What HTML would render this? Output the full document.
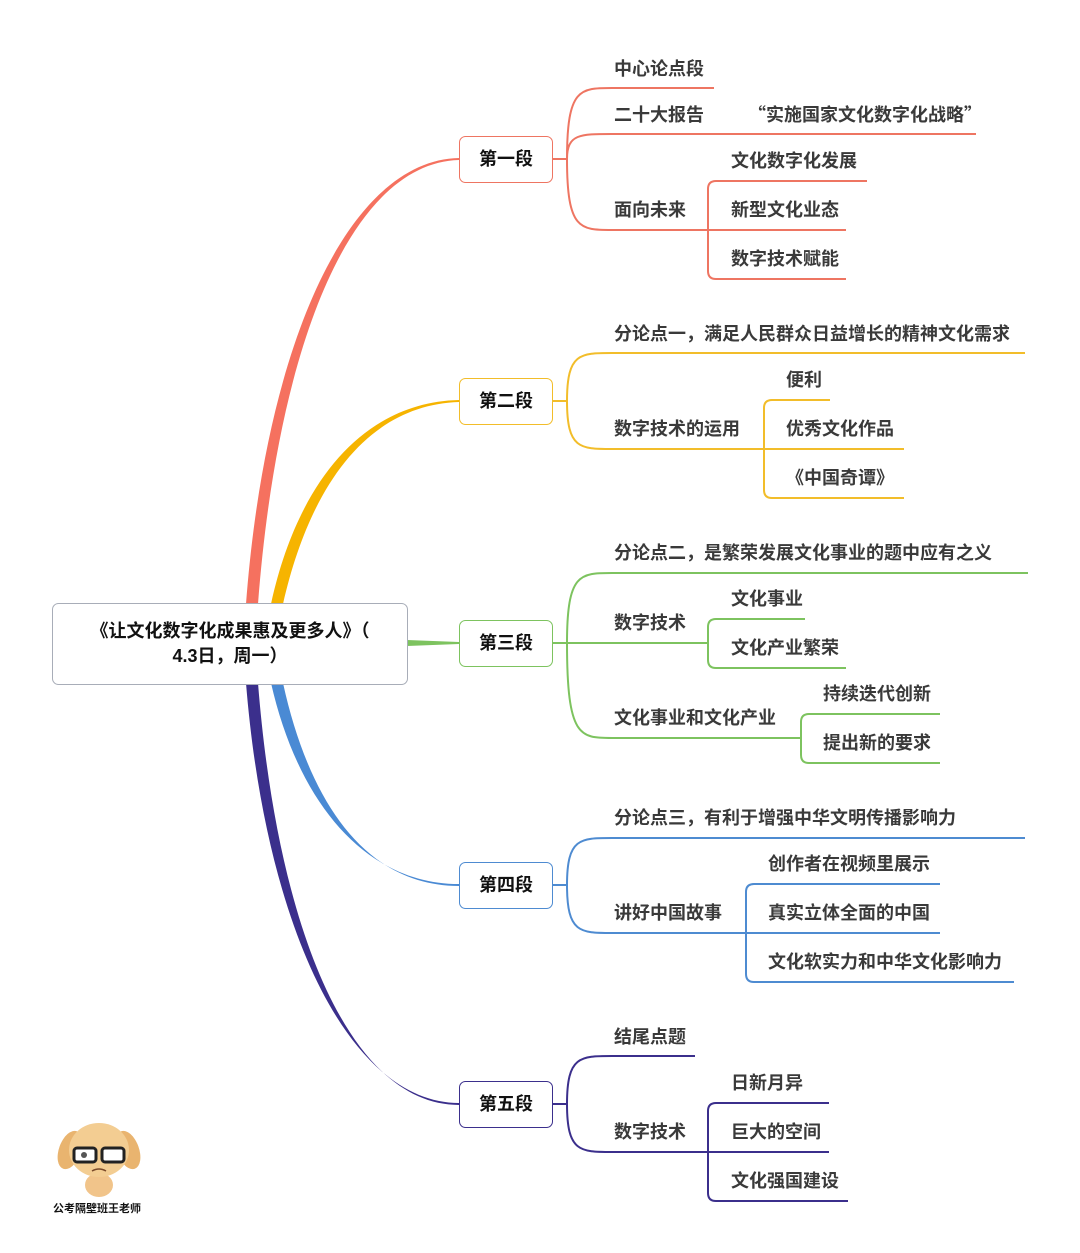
<!DOCTYPE html>
<html><head><meta charset="utf-8"><style>
html,body{margin:0;padding:0;background:#fff;}
svg{display:block;}
text{font-family:"Liberation Sans","Noto Sans CJK SC",sans-serif;font-size:18px;font-weight:700;fill:#3a3a3a;}
.c{font-family:"Noto Sans CJK SC",sans-serif;}
.s{font-weight:700;fill:#111;font-size:18px;}
</style></head><body>
<svg width="1080" height="1253" viewBox="0 0 1080 1253" xmlns="http://www.w3.org/2000/svg">
<!-- main branches -->
<path d="M246 604 C266 340 350 160 459 158 L459 160 C352 163 278 342 258 604 Z" fill="#f5715f"/>
<path d="M271 604 C298 480 365 402 459 400 L459 402 C368 405 310 485 283 604 Z" fill="#f6b400"/>
<path d="M407 640 L459 642 L459 644 L407 646 Z" fill="#7dc35f"/>
<path d="M271 683 C298 802 365 884 459 884 L459 886 C368 886 310 806 283 683 Z" fill="#4a8ad4"/>
<path d="M246 683 C266 930 350 1103 459 1103 L459 1105 C352 1105 278 935 258 683 Z" fill="#3b2f8c"/>

<!-- center -->
<rect x="52.5" y="603.5" width="355" height="81" rx="6" fill="#fff" stroke="#a8adb8"/>
<text class="s c" x="230" y="637" text-anchor="middle">《让文化数字化成果惠及更多人》（</text>
<text class="s" x="230" y="662" text-anchor="middle">4.3日<tspan class="c">，</tspan>周一<tspan class="c">）</tspan></text>

<g fill="none" stroke-width="2">
<g stroke="#ee7562">
<path d="M552 159 H567 M567 159 C567 88 580 88 612 88 H714 M567 159 C567 134 580 134 612 134 H976 M567 159 C567 230 580 230 612 230 H708"/>
<path d="M846 279 H716 Q708 279 708 271 V189 Q708 181 716 181 H867 M708 230 H846"/>
</g>
<g stroke="#f2bd2a">
<path d="M552 401 H567 M567 401 C567 353 580 353 612 353 H1025 M567 401 C567 449 580 449 612 449 H764"/>
<path d="M904 498 H772 Q764 498 764 490 V408 Q764 400 772 400 H830 M764 449 H904"/>
</g>
<g stroke="#7dc35f">
<path d="M552 643 H567 M567 643 C567 573 580 573 612 573 H1028 M567 643 H708 M567 643 C567 738 580 738 612 738 H801"/>
<path d="M846 668 H716 Q708 668 708 660 V627 Q708 619 716 619 H805"/>
<path d="M940 763 H809 Q801 763 801 755 V722 Q801 714 809 714 H940"/>
</g>
<g stroke="#4e8bd1">
<path d="M552 885 H567 M567 885 C567 838 580 838 612 838 H1025 M567 885 C567 933 580 933 612 933 H746"/>
<path d="M1014 982 H754 Q746 982 746 974 V892 Q746 884 754 884 H940 M746 933 H940"/>
</g>
<g stroke="#3b2f8c">
<path d="M552 1104 H567 M567 1104 C567 1056 580 1056 612 1056 H695 M567 1104 C567 1152 580 1152 612 1152 H708"/>
<path d="M848 1201 H716 Q708 1201 708 1193 V1111 Q708 1103 716 1103 H829 M708 1152 H829"/>
</g>
</g>

<rect x="459.5" y="136.5" width="93" height="46" rx="6" fill="#fff" stroke="#ee7562"/>
<rect x="459.5" y="378.5" width="93" height="46" rx="6" fill="#fff" stroke="#f2bd2a"/>
<rect x="459.5" y="620.5" width="93" height="46" rx="6" fill="#fff" stroke="#7dc35f"/>
<rect x="459.5" y="862.5" width="93" height="46" rx="6" fill="#fff" stroke="#4e8bd1"/>
<rect x="459.5" y="1081.5" width="93" height="46" rx="6" fill="#fff" stroke="#3b2f8c"/>
<text class="s" x="506" y="165" text-anchor="middle">第一段</text>
<text class="s" x="506" y="407" text-anchor="middle">第二段</text>
<text class="s" x="506" y="649" text-anchor="middle">第三段</text>
<text class="s" x="506" y="891" text-anchor="middle">第四段</text>
<text class="s" x="506" y="1110" text-anchor="middle">第五段</text>

<text x="614" y="75">中心论点段</text>
<text x="614" y="121">二十大报告</text>
<text class="c" x="748" y="121">“实施国家文化数字化战略”</text>
<text x="614" y="216">面向未来</text>
<text x="731" y="167">文化数字化发展</text>
<text x="731" y="216">新型文化业态</text>
<text x="731" y="265">数字技术赋能</text>

<text class="c" x="614" y="340">分论点一，满足人民群众日益增长的精神文化需求</text>
<text x="614" y="435">数字技术的运用</text>
<text x="786" y="386">便利</text>
<text x="786" y="435">优秀文化作品</text>
<text class="c" x="786" y="484">《中国奇谭》</text>

<text class="c" x="614" y="559">分论点二，是繁荣发展文化事业的题中应有之义</text>
<text x="614" y="629">数字技术</text>
<text x="731" y="605">文化事业</text>
<text x="731" y="654">文化产业繁荣</text>
<text x="614" y="724">文化事业和文化产业</text>
<text x="823" y="700">持续迭代创新</text>
<text x="823" y="749">提出新的要求</text>

<text class="c" x="614" y="824">分论点三，有利于增强中华文明传播影响力</text>
<text x="614" y="919">讲好中国故事</text>
<text x="768" y="870">创作者在视频里展示</text>
<text x="768" y="919">真实立体全面的中国</text>
<text x="768" y="968">文化软实力和中华文化影响力</text>

<text x="614" y="1043">结尾点题</text>
<text x="614" y="1138">数字技术</text>
<text x="731" y="1089">日新月异</text>
<text x="731" y="1138">巨大的空间</text>
<text x="731" y="1187">文化强国建设</text>

<g>
<ellipse cx="99" cy="1185" rx="14" ry="12" fill="#f1c48a"/>
<ellipse cx="70" cy="1150" rx="11" ry="20" fill="#e9b46f" transform="rotate(20 70 1150)"/>
<ellipse cx="128" cy="1150" rx="11" ry="20" fill="#e9b46f" transform="rotate(-20 128 1150)"/>
<ellipse cx="99" cy="1150" rx="30" ry="27" fill="#f3cd92"/>
<rect x="74" y="1148" width="22" height="14" rx="3" fill="#fff" stroke="#222" stroke-width="3"/>
<rect x="102" y="1148" width="22" height="14" rx="3" fill="#fff" stroke="#222" stroke-width="3"/>
<circle cx="84" cy="1155" r="3" fill="#555"/>
<path d="M92 1171 Q99 1167 106 1171" stroke="#7a4a2a" stroke-width="1.5" fill="none"/>
</g>
<text x="53" y="1212" style="font-size:11px;font-weight:700;fill:#111">公考隔壁班王老师</text>
</svg>
</body></html>
